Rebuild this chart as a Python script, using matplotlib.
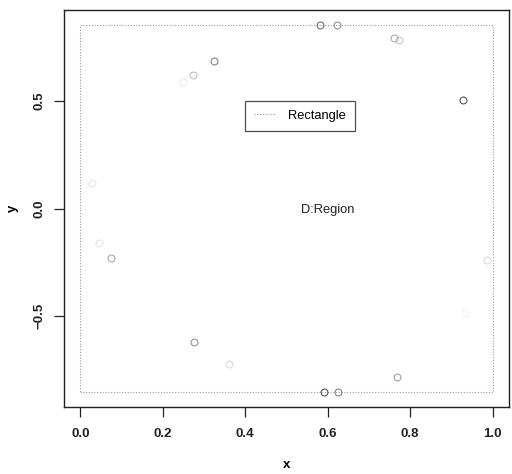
import matplotlib
matplotlib.use("Agg")
import matplotlib.pyplot as plt

plt.rcParams['font.family'] = ['Liberation Sans', 'DejaVu Sans']

# data
pt_x = [0.581, 0.622, 0.761, 0.773, 0.323, 0.272, 0.250, 0.928, 0.029,
        0.046, 0.073, 0.986, 0.933, 0.275, 0.360, 0.768, 0.590, 0.625]
pt_y = [0.852, 0.852, 0.790, 0.780, 0.685, 0.620, 0.585, 0.505, 0.120,
        -0.162, -0.231, -0.241, -0.486, -0.620, -0.722, -0.782, -0.852, -0.852]
pt_gray = [0.38, 0.52, 0.62, 0.75, 0.45, 0.70, 0.90, 0.25, 0.88,
           0.88, 0.62, 0.84, 0.94, 0.52, 0.84, 0.58, 0.25, 0.45]
rect_x = [0.0, 1.0, 1.0, 0.0, 0.0]
rect_y = [-0.853, -0.853, 0.853, 0.853, -0.853]
x_ticks = [0.0, 0.2, 0.4, 0.6, 0.8, 1.0]
y_ticks = [-0.5, 0.0, 0.5]
legend_label = "Rectangle"
region_label = "D:Region"

fig = plt.figure(figsize=(5.12, 4.74), dpi=100)
ax = fig.add_axes([64/512, 1-407/474, 445/512, 397/474])

ax.plot(rect_x, rect_y, linestyle=(0, (1, 1.5)), color='#999999', lw=0.8, label=legend_label)
for x, y, g in zip(pt_x, pt_y, pt_gray):
    ax.plot([x], [y], marker='o', markersize=5, markerfacecolor='none',
            markeredgecolor=(g, g, g), markeredgewidth=0.7, linestyle='none')

ax.text(0.6, 0.0, region_label, ha='center', va='center_baseline', fontsize=9.3, color='#222222')

leg = ax.legend(loc='upper left', bbox_to_anchor=(0.4, 0.5), bbox_transform=ax.transData,
                fontsize=9.3, frameon=True, fancybox=False, handlelength=1.7,
                borderpad=0.7, handletextpad=0.9, borderaxespad=0)
leg.get_frame().set_edgecolor('#222222')
leg.get_frame().set_linewidth(0.9)

ax.set_xlim(-0.04, 1.04)
ax.set_ylim(-0.853*1.08, 0.853*1.08)
ax.set_xticks(x_ticks)
ax.set_xticklabels([f"{v:.1f}" for v in x_ticks], fontweight='bold', fontsize=9.5)
ax.set_yticks(y_ticks)
ax.set_yticklabels([f"{v:.1f}".replace('-', '\u2212') for v in y_ticks], fontweight='bold',
                   fontsize=9.5, rotation=90, va='center')
ax.tick_params(direction='out', length=7, width=0.9, pad=8, colors='#222222')
ax.tick_params(axis='y', pad=6)
ax.set_xlabel('x', fontweight='bold', fontsize=9.5, labelpad=14)
ax.set_ylabel('y', fontweight='bold', fontsize=9.5, labelpad=11)
for s in ax.spines.values():
    s.set_linewidth(1.0)
    s.set_color('#222222')

fig.savefig('out.png', dpi=100)
